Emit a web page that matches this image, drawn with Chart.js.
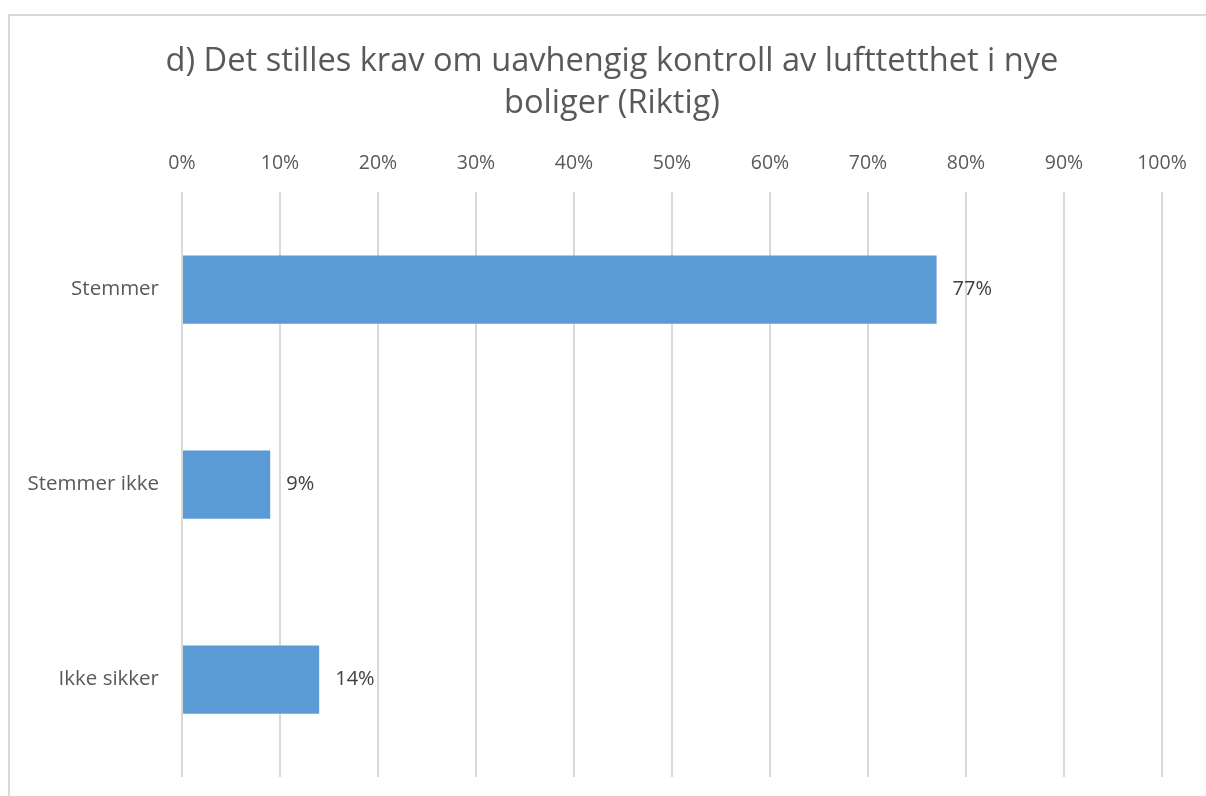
<!DOCTYPE html>
<html>
<head>
<meta charset="utf-8">
<script src="https://cdn.jsdelivr.net/npm/chart.js@4/dist/chart.umd.min.js"></script>
<style>
  html, body { margin: 0; padding: 0; background: #fff; overflow: hidden; }
  #frame {
    position: absolute; left: 8px; top: 14px;
    width: 1208px; height: 800px;
    border-top: 2px solid #d9d9d9; border-left: 2px solid #d9d9d9;
    box-sizing: border-box;
  }
  #wrap { position: absolute; left: 8px; top: 14px; width: 1208px; height: 800px; }
</style>
</head>
<body>
<div id="frame"></div>
<div id="wrap"><canvas id="barChart"></canvas></div>
<script>
// data
const categories = ['Stemmer', 'Stemmer ikke', 'Ikke sikker'];
const shares = [77, 9, 14];
const titleLines = ['d) Det stilles krav om uavhengig kontroll av lufttetthet i nye', 'boliger (Riktig)'];

const FONT = "'Open Sans', 'Noto Sans', sans-serif";

// title drawn by hand so it stays centred on the frame, not on the plot
const frameTitle = {
  id: 'frameTitle',
  afterDraw(chart) {
    const ctx = chart.ctx;
    ctx.save();
    ctx.font = '32.6px ' + FONT;
    ctx.fillStyle = '#595959';
    ctx.textAlign = 'center';
    ctx.textBaseline = 'middle';
    titleLines.forEach((line, i) => {
      ctx.fillText(line, 604, 48 + i * 41.5);
    });
    ctx.restore();
  }
};

// labels after the end of each bar
const valueLabels = {
  id: 'valueLabels',
  afterDatasetsDraw(chart) {
    const ctx = chart.ctx;
    const meta = chart.getDatasetMeta(0);
    ctx.save();
    ctx.font = '20px ' + FONT;
    ctx.fillStyle = '#404040';
    ctx.textAlign = 'left';
    ctx.textBaseline = 'middle';
    meta.data.forEach((bar, i) => {
      ctx.fillText(shares[i] + '%', bar.x + 16, bar.y);
    });
    ctx.restore();
  }
};

const ctx = document.getElementById('barChart').getContext('2d');
new Chart(ctx, {
  type: 'bar',
  data: {
    labels: categories,
    datasets: [{
      data: shares,
      backgroundColor: '#5b9bd5',
      borderWidth: 0,
      categoryPercentage: 1,
      barPercentage: 0.35
    }]
  },
  options: {
    indexAxis: 'y',
    responsive: true,
    maintainAspectRatio: false,
    animation: false,
    layout: { padding: { left: 0, right: 54, top: 110, bottom: 37 } },
    plugins: {
      legend: { display: false },
      tooltip: { enabled: false },
      title: { display: false }
    },
    scales: {
      x: {
        position: 'top',
        min: 0,
        max: 100,
        ticks: {
          stepSize: 10,
          color: '#595959',
          font: { family: FONT, size: 19.5 },
          padding: 17,
          callback: v => v + '%'
        },
        grid: { color: '#d9d9d9', lineWidth: 2, drawTicks: false },
        border: { display: false },
        afterFit(scale) { scale.height = 68; }
      },
      y: {
        ticks: {
          color: '#595959',
          font: { family: FONT, size: 20.5 },
          padding: 23
        },
        grid: { display: false, drawTicks: false },
        border: { display: false },
        afterFit(scale) { scale.width = 174; }
      }
    }
  },
  plugins: [valueLabels, frameTitle]
});
</script>
</body>
</html>
